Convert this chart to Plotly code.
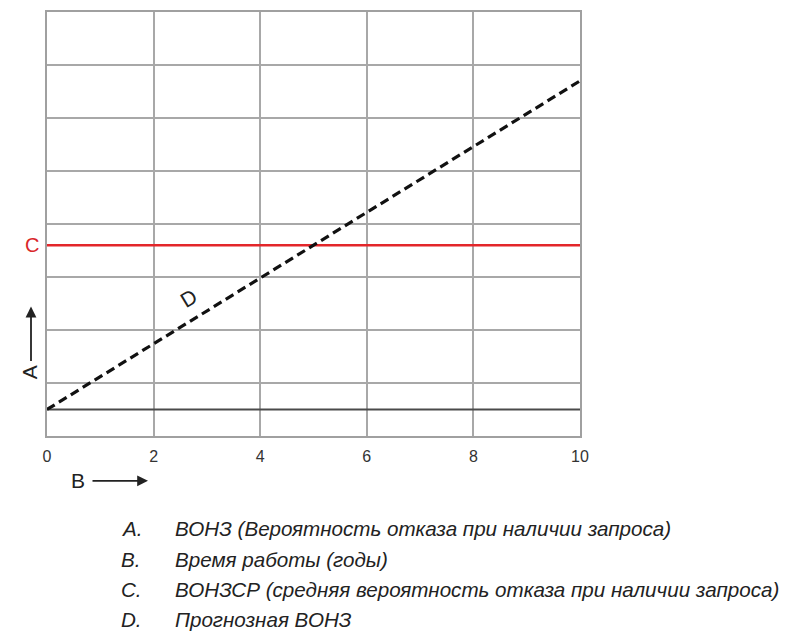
import plotly.graph_objects as go

# ---- data ----
years = [0, 10]
baseline = [0.5, 0.5]
pfd_avg = [3.6, 3.6]
pfd_forecast = [0.5, 6.7]
x_ticks = [0, 2, 4, 6, 8, 10]
x_tick_labels = ["0", "2", "4", "6", "8", "10"]
legend_letters = ["A.", "B.", "C.", "D."]
legend_texts = [
    "ВОНЗ (Вероятность отказа при наличии запроса)",
    "Время работы (годы)",
    "ВОНЗСР (средняя вероятность отказа при наличии запроса)",
    "Прогнозная ВОНЗ",
]

OFF = 8  # page body margin
W, H = 789 - OFF, 635 - OFF
L, R, T, B = 47, 580, 10, 436  # plot box in page pixels


def px(x):
    return (x - L) / (R - L)


def py(y):
    return (B - y) / (B - T)


fig = go.Figure()
fig.add_trace(go.Scatter(x=years, y=baseline, mode="lines",
                         line=dict(color="#4a4a4a", width=2), hoverinfo="skip"))
fig.add_trace(go.Scatter(x=years, y=pfd_avg, mode="lines",
                         line=dict(color="#e3262a", width=2.5), hoverinfo="skip"))
fig.add_trace(go.Scatter(x=years, y=pfd_forecast, mode="lines",
                         line=dict(color="#111111", width=3.2, dash="9px,5px"), hoverinfo="skip"))

ann = []
font_main = "Liberation Sans, Arial, sans-serif"
base = dict(xanchor="center", yanchor="middle", showarrow=False)
# C label
ann.append(dict(base, x=px(32), y=pfd_avg[0], xref="paper", yref="y", text="C",
                font=dict(family=font_main, size=20, color="#d9262a")))
# D label
ann.append(dict(base, x=2.65, y=2.6, xref="x", yref="y", text="D", textangle=-31,
                font=dict(family=font_main, size=21, color="#222")))
# A label + arrow
ann.append(dict(base, x=px(29), y=py(372), xref="paper", yref="paper", text="A",
                textangle=-90, font=dict(family=font_main, size=21, color="#222")))
ann.append(dict(x=px(31), y=py(306), xref="paper", yref="paper", text="", showarrow=True,
                ax=0, ay=56, arrowhead=2, arrowsize=1.2, arrowwidth=1.8, arrowcolor="#222"))
# B label + arrow
ann.append(dict(base, x=px(78), y=py(481), xref="paper", yref="paper", text="B",
                font=dict(family=font_main, size=21, color="#222")))
ann.append(dict(x=px(148), y=py(481), xref="paper", yref="paper", text="", showarrow=True,
                ax=-57, ay=0, arrowhead=2, arrowsize=1.2, arrowwidth=1.8, arrowcolor="#222"))
# legend lines
line_y = [529, 560, 590, 620]
for letter, text, yy in zip(legend_letters, legend_texts, line_y):
    ann.append(dict(x=px(119), y=py(yy), xref="paper", yref="paper", text=letter,
                    showarrow=False, xanchor="left", yanchor="middle",
                    font=dict(family=font_main, size=20.6, color="#222", style="italic")))
    ann.append(dict(x=px(173), y=py(yy), xref="paper", yref="paper", text=text,
                    showarrow=False, xanchor="left", yanchor="middle",
                    font=dict(family=font_main, size=20.6, color="#222", style="italic")))

fig.update_layout(
    width=W, height=H,
    margin=dict(l=L - OFF, r=W - (R - OFF), t=T - OFF, b=H - (B - OFF)),
    paper_bgcolor="white", plot_bgcolor="white",
    showlegend=False,
    annotations=ann,
    xaxis=dict(range=[0, 10], tickvals=x_ticks, ticktext=x_tick_labels,
               showgrid=True, gridcolor="#a8a8a8", gridwidth=1.5,
               showline=True, linecolor="#a0a0a0", linewidth=1.5, mirror=True,
               zeroline=False, ticks="", ticklabelstandoff=5,
               tickfont=dict(family=font_main, size=16, color="#333")),
    yaxis=dict(range=[0, 8], dtick=1, showticklabels=False,
               showgrid=True, gridcolor="#a8a8a8", gridwidth=1.5,
               showline=True, linecolor="#a0a0a0", linewidth=1.5, mirror=True,
               zeroline=False, ticks=""),
)

fig.write_html("out.html")
